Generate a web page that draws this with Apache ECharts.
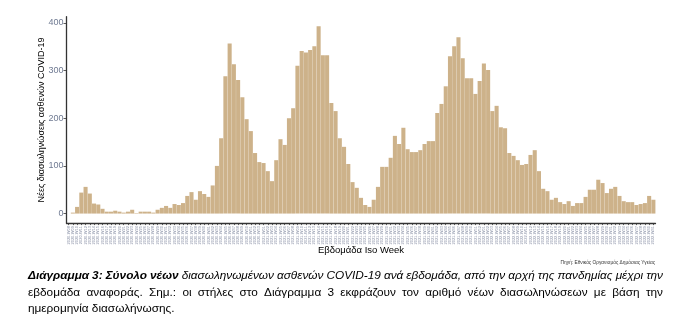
<!DOCTYPE html>
<html>
<head>
<meta charset="utf-8">
<script src="https://cdn.jsdelivr.net/npm/echarts@6/dist/echarts.min.js"></script>
<style>
  html, body { margin: 0; padding: 0; background: #ffffff; }
  #c { width: 688px; height: 332px; }
</style>
</head>
<body>
<div id="c"></div>
<script>
// Weekly new intubations (ISO weeks, 2020-W08 .. 2022-W41)
const startYear = 2020;
const startWeek = 8;
const weeksInYear = { 2020: 53, 2021: 52, 2022: 52 };

const newIntubations = [
  0,
  2, 14, 44, 56, 42, 21, 19, 10, 4, 4, 6, 4, 2, 4, 8, 1, 4, 4, 4, 2,
  8, 12, 16, 12, 20, 18, 22, 37, 45, 29, 47, 41, 35, 59, 100, 158, 288, 357, 313, 280,
  244, 198, 173, 127, 108, 106, 89, 68, 112, 156, 144, 200, 221, 310, 341, 338, 343, 351, 393, 332,
  332, 232, 215, 158, 140, 104, 66, 54, 33, 18, 14, 29, 56, 98, 98, 117, 163, 146, 180, 135,
  129, 129, 133, 146, 152, 152, 211, 230, 267, 330, 351, 370, 326, 284, 284, 251, 278, 315, 301, 215,
  226, 181, 179, 127, 121, 112, 102, 104, 123, 133, 89, 52, 47, 29, 33, 24, 20, 26, 16, 22,
  22, 35, 50, 50, 71, 64, 43, 52, 56, 37, 26, 24, 24, 18, 20, 22, 37, 29
];

const yTicks = [0, 100, 200, 300, 400];

const yTitle = 'Νέες διασωληνώσεις ασθενών COVID-19';
const xTitle = 'Εβδομάδα Iso Week';
const sourceNote = 'Πηγή: Εθνικός Οργανισμός Δημόσιας Υγείας';

// caption lines: [text, bold?] runs
const captionLine1 = [
  ['Διάγραμμα 3: Σύνολο νέων', true],
  ['διασωληνωμένων ασθενών COVID-19 ανά εβδομάδα, από την αρχή της πανδημίας μέχρι την', false]
];
const captionLine2 = 'εβδομάδα αναφοράς.  Σημ.:  οι στήλες στο Διάγραμμα 3 εκφράζουν τον αριθμό νέων διασωληνώσεων με βάση την';
const captionLine3 = 'ημερομηνία διασωλήνωσης.';

// ISO week labels
const weekLabels = [];
{
  let y = startYear, w = startWeek;
  for (let i = 0; i < newIntubations.length; i++) {
    weekLabels.push(y + '-W' + String(w).padStart(2, '0'));
    w++;
    if (w > weeksInYear[y]) { w = 1; y++; }
  }
}

const FONT = 'Liberation Sans, Arial, sans-serif';
const CAP_FONT = 'Liberation Sans, Arial, sans-serif';

// word-justified caption text
const measureCtx = document.createElement('canvas').getContext('2d');
function fontStr(size, italic, bold) {
  return (italic ? 'italic ' : '') + (bold ? 'bold ' : '') + size + 'px ' + CAP_FONT;
}
function justifyLine(words, x0, x1, y, size) {
  let total = 0;
  words.forEach(wd => {
    measureCtx.font = fontStr(size, wd.italic, wd.bold);
    wd.w = measureCtx.measureText(wd.t).width;
    total += wd.w;
  });
  const gap = words.length > 1 ? (x1 - x0 - total) / (words.length - 1) : 0;
  let x = x0;
  return words.map(wd => {
    const el = {
      type: 'text', left: x, top: y - size * 0.62,
      style: {
        text: wd.t, fill: '#000', fontSize: size, fontFamily: CAP_FONT,
        fontStyle: wd.italic ? 'italic' : 'normal',
        fontWeight: wd.bold ? 'bold' : 'normal'
      }
    };
    x += wd.w + gap;
    return el;
  });
}
function runsToWords(runs, italic) {
  const out = [];
  runs.forEach(([txt, bold]) => {
    txt.split(/\s+/).filter(Boolean).forEach(t => out.push({ t, bold, italic }));
  });
  return out;
}

const capSize = 11.8;
const captionEls = []
  .concat(justifyLine(runsToWords(captionLine1, true), 28, 663, 277, capSize))
  .concat(justifyLine(captionLine2.split(/\s+/).map(t => ({ t, bold: false, italic: false })), 28, 663, 294, capSize))
  .concat(justifyLine([{ t: captionLine3, bold: false, italic: false }], 28, 663, 310, capSize));

const chart = echarts.init(document.getElementById('c'));
chart.setOption({
  animation: false,
  backgroundColor: '#ffffff',
  textStyle: { fontFamily: FONT },
  grid: { left: 66.5, top: 16.7, width: 589, height: 206.4, containLabel: false },
  xAxis: {
    type: 'category',
    data: weekLabels,
    axisLine: { onZero: false, lineStyle: { color: '#333333', width: 1.3 } },
    axisTick: { show: true, interval: 0, alignWithLabel: true, length: 2, lineStyle: { color: '#333333', width: 0.8 } },
    axisLabel: { interval: 0, rotate: 90, fontSize: 4, color: '#8c93a8', margin: 3, fontFamily: FONT }
  },
  yAxis: {
    type: 'value',
    min: -20,
    max: 413,
    splitLine: { show: false },
    axisLine: { show: true, lineStyle: { color: '#333333', width: 1.3 } },
    axisTick: { show: true, length: 3, customValues: yTicks, lineStyle: { color: '#333333', width: 0.8 } },
    axisLabel: { customValues: yTicks, fontSize: 9, color: '#6f7a92', margin: 3, fontFamily: FONT }
  },
  series: [{
    type: 'bar',
    data: newIntubations,
    barCategoryGap: '4%',
    itemStyle: { color: '#cdb28a' }
  }],
  graphic: [
    {
      type: 'text', x: 42, y: 120, rotation: Math.PI / 2,
      style: { text: yTitle, fill: '#000', fontSize: 9, fontFamily: FONT, align: 'center', verticalAlign: 'middle' }
    },
    {
      type: 'text', x: 361, y: 250,
      style: { text: xTitle, fill: '#000', fontSize: 9.5, fontFamily: FONT, align: 'center', verticalAlign: 'middle' }
    },
    {
      type: 'text', x: 655, y: 263,
      style: { text: sourceNote, fill: '#333', fontSize: 4.8, fontFamily: FONT, align: 'right', verticalAlign: 'middle' }
    }
  ].concat(captionEls)
});
</script>
</body>
</html>
